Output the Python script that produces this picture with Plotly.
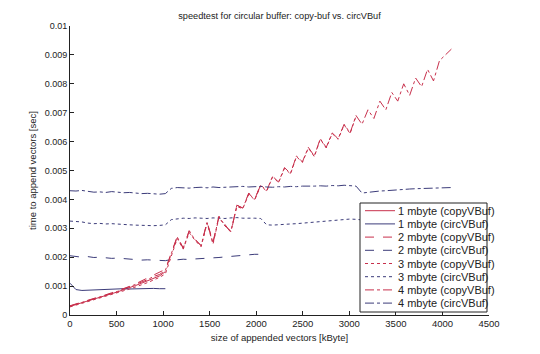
import plotly.graph_objects as go

# x positions (kByte), step 64
x_all = [64 * i for i in range(65)]

copy_1 = [0.00030, 0.00036, 0.00042, 0.00048, 0.00054, 0.00061, 0.00067, 0.00074, 0.00080,
          0.00088, 0.00094, 0.00102, 0.00110, 0.00118, 0.00128, 0.00135, 0.00150]
circ_1 = [0.00110, 0.00088, 0.00085, 0.00086, 0.00087, 0.00088, 0.00089, 0.00090, 0.00090,
          0.00091, 0.00090, 0.00091, 0.00092, 0.00091, 0.00092, 0.00091, 0.00091]

copy_2 = [0.00032, 0.00038, 0.00044, 0.00050, 0.00057, 0.00063, 0.00070, 0.00077, 0.00084,
          0.00092, 0.00099, 0.00108, 0.00118, 0.00127, 0.00138, 0.00146, 0.00158,
          0.00215, 0.00272, 0.00232, 0.00292, 0.00262, 0.00240, 0.00322, 0.00252, 0.00342,
          0.00312, 0.00285, 0.00380, 0.00370, 0.00422, 0.00400, 0.00452]
circ_2 = [0.00205, 0.00203, 0.00200, 0.00202, 0.00199, 0.00200, 0.00198, 0.00196, 0.00197,
          0.00195, 0.00194, 0.00192, 0.00190, 0.00191, 0.00190, 0.00189, 0.00188,
          0.00192, 0.00191, 0.00193, 0.00192, 0.00194, 0.00195, 0.00197, 0.00196, 0.00199,
          0.00201, 0.00203, 0.00205, 0.00207, 0.00208, 0.00210, 0.00210]

copy_3 = [0.00028, 0.00034, 0.00040, 0.00046, 0.00052, 0.00058, 0.00065, 0.00071, 0.00077,
          0.00084, 0.00090, 0.00097, 0.00104, 0.00112, 0.00121, 0.00130, 0.00142,
          0.00205, 0.00265, 0.00228, 0.00285, 0.00258, 0.00236, 0.00318, 0.00245, 0.00338,
          0.00308, 0.00290, 0.00375, 0.00368, 0.00418, 0.00398, 0.00448,
          0.00428, 0.00478, 0.00458, 0.00508, 0.00488, 0.00548, 0.00528, 0.00578, 0.00548,
          0.00608, 0.00578, 0.00628, 0.00608, 0.00658, 0.00628, 0.00688]
circ_3 = [0.00325, 0.00324, 0.00322, 0.00318, 0.00316, 0.00317, 0.00315, 0.00316, 0.00314,
          0.00313, 0.00312, 0.00311, 0.00310, 0.00310, 0.00309, 0.00310, 0.00312,
          0.00330, 0.00333, 0.00335, 0.00334, 0.00336, 0.00335, 0.00334, 0.00336, 0.00335,
          0.00334, 0.00336, 0.00337, 0.00335, 0.00336, 0.00335, 0.00334,
          0.00312, 0.00311, 0.00313, 0.00314, 0.00315, 0.00316, 0.00318, 0.00319, 0.00320,
          0.00322, 0.00324, 0.00326, 0.00328, 0.00330, 0.00332, 0.00331, 0.00329]

copy_4 = [0.00031, 0.00037, 0.00043, 0.00049, 0.00055, 0.00062, 0.00068, 0.00075, 0.00082,
          0.00090, 0.00097, 0.00105, 0.00114, 0.00122, 0.00133, 0.00140, 0.00154,
          0.00210, 0.00270, 0.00230, 0.00290, 0.00260, 0.00240, 0.00320, 0.00250, 0.00340,
          0.00310, 0.00288, 0.00380, 0.00370, 0.00420, 0.00400, 0.00450,
          0.00430, 0.00480, 0.00460, 0.00510, 0.00490, 0.00550, 0.00530, 0.00580, 0.00550,
          0.00610, 0.00580, 0.00630, 0.00610, 0.00660, 0.00630, 0.00690,
          0.00660, 0.00710, 0.00680, 0.00740, 0.00710, 0.00770, 0.00740, 0.00800, 0.00760,
          0.00820, 0.00790, 0.00850, 0.00810, 0.00880, 0.00900, 0.00920]
circ_4 = [0.00430, 0.00429, 0.00431, 0.00428, 0.00425, 0.00426, 0.00424, 0.00427, 0.00425,
          0.00423, 0.00424, 0.00422, 0.00420, 0.00421, 0.00419, 0.00418, 0.00420,
          0.00438, 0.00441, 0.00440, 0.00439, 0.00441, 0.00442, 0.00440, 0.00443, 0.00441,
          0.00442, 0.00444, 0.00443, 0.00445, 0.00443, 0.00444, 0.00445,
          0.00443, 0.00442, 0.00444, 0.00443, 0.00445, 0.00444, 0.00446, 0.00445, 0.00446,
          0.00447, 0.00446, 0.00448, 0.00447, 0.00449, 0.00448, 0.00446,
          0.00422, 0.00425, 0.00427, 0.00429, 0.00430, 0.00432, 0.00433, 0.00434, 0.00436,
          0.00437, 0.00438, 0.00439, 0.00440, 0.00441, 0.00442, 0.00441]

names = ["1 mbyte (copyVBuf)", "1 mbyte (circVBuf)", "2 mbyte (copyVBuf)", "2 mbyte (circVBuf)",
         "3 mbyte (copyVBuf)", "3 mbyte (circVBuf)", "4 mbyte (copyVBuf)", "4 mbyte (circVBuf)"]
series = [copy_1, circ_1, copy_2, circ_2, copy_3, circ_3, copy_4, circ_4]

COPY = "#c8304c"
CIRC = "#3c3c7a"
colors = [COPY, CIRC] * 4
dashes = ["solid", "solid", "dash", "dash", "dot", "dot", "dashdot", "dashdot"]

fig = go.Figure()
for nm, ys, c, d in zip(names, series, colors, dashes):
    fig.add_trace(go.Scatter(x=x_all[:len(ys)], y=ys, mode="lines", name=nm,
                             line=dict(color=c, width=1, dash=d), showlegend=False))

font = "Liberation Sans, Arial, sans-serif"

# Compact MATLAB-style legend drawn in paper coordinates
W, H = 540, 354
L, R, T, B = 70, 51, 26, 39
pw, ph = W - L - R, H - T - B
def px(xp):
    return (xp - L) / pw
def py(yp):
    return (H - B - yp) / ph

shapes = [dict(type="rect", xref="paper", yref="paper", layer="above",
               x0=px(360), x1=px(487), y0=py(312), y1=py(203),
               fillcolor="white", line=dict(color="#222", width=1))]
annotations = []
for i, (nm, c, d) in enumerate(zip(names, colors, dashes)):
    yc = 210.7 + 13.2 * i
    shapes.append(dict(type="line", xref="paper", yref="paper", layer="above",
                       x0=px(365), x1=px(395), y0=py(yc), y1=py(yc),
                       line=dict(color=c, width=1, dash=d)))
    annotations.append(dict(text=nm, xref="paper", yref="paper", x=px(396), y=py(yc),
                            xanchor="left", yanchor="middle", showarrow=False,
                            font=dict(size=11, family=font, color="#222")))

fig.update_layout(
    width=W, height=H,
    margin=dict(l=L, r=R, t=T, b=B),
    paper_bgcolor="white", plot_bgcolor="white",
    font=dict(family=font, size=9, color="#222"),
    title=dict(text="speedtest for circular buffer: copy-buf vs. circVBuf",
               x=0.5, xref="paper", xanchor="center", y=1 - 16 / H, yanchor="middle",
               font=dict(size=9.2, family=font, color="#222")),
    showlegend=False,
    shapes=shapes,
    annotations=annotations,
)
fig.update_xaxes(range=[0, 4500], tickvals=[0, 500, 1000, 1500, 2000, 2500, 3000, 3500, 4000, 4500],
                 showgrid=False, zeroline=False, showline=True, linecolor="#222", linewidth=1,
                 ticks="inside", ticklen=4, tickcolor="#222",
                 title=dict(text="size of appended vectors [kByte]", standoff=5,
                            font=dict(size=9.5, family=font)),
                 tickfont=dict(size=9.5, family=font))
fig.update_yaxes(range=[0, 0.01],
                 tickvals=[0, 0.001, 0.002, 0.003, 0.004, 0.005, 0.006, 0.007, 0.008, 0.009, 0.01],
                 ticktext=["0", "0.001", "0.002", "0.003", "0.004", "0.005", "0.006", "0.007",
                           "0.008", "0.009", "0.01"],
                 showgrid=False, zeroline=False, showline=True, linecolor="#222", linewidth=1,
                 ticks="inside", ticklen=4, tickcolor="#222",
                 title=dict(text="time to append vectors [sec]", standoff=6,
                            font=dict(size=9.5, family=font)),
                 tickfont=dict(size=9, family=font))

fig.write_html("out.html")
